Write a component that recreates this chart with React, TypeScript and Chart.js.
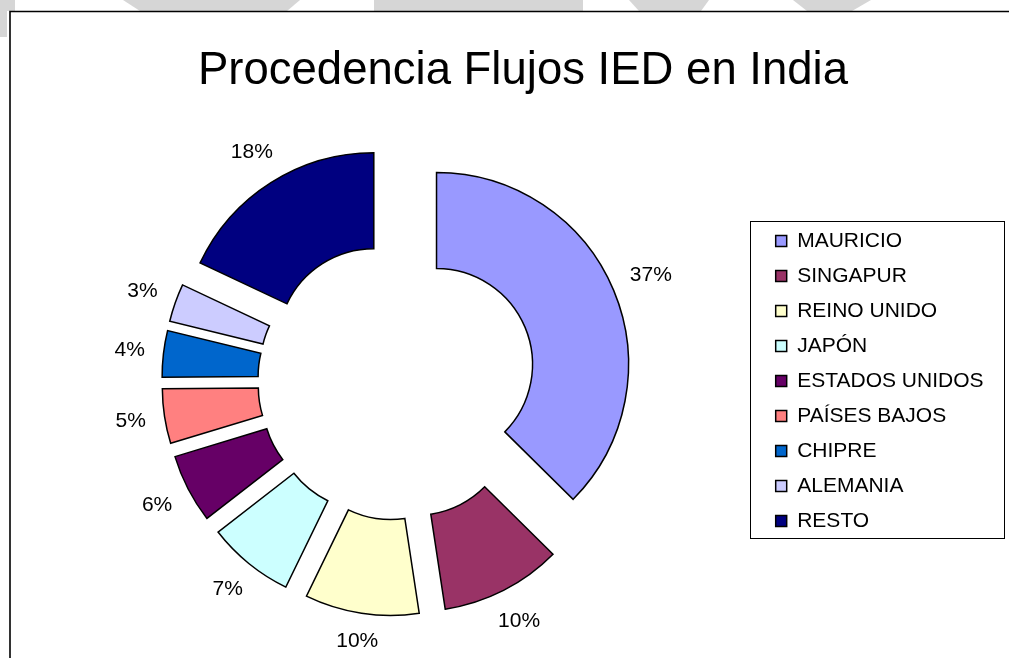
import React, { useEffect, useRef } from 'react';
import { Chart, registerables } from 'chart.js';

Chart.register(...registerables);

const TITLE = 'Procedencia Flujos IED en India';
const COUNTRIES = [
  'MAURICIO',
  'SINGAPUR',
  'REINO UNIDO',
  'JAPÓN',
  'ESTADOS UNIDOS',
  'PAÍSES BAJOS',
  'CHIPRE',
  'ALEMANIA',
  'RESTO',
];
const SHARES = [37.4, 10.2, 9.6, 7.3, 5.8, 4.6, 3.9, 3.2, 18.0];
const COLORS = [
  '#9999FF',
  '#993366',
  '#FFFFCC',
  '#CCFFFF',
  '#660066',
  '#FF8080',
  '#0066CC',
  '#CCCCFF',
  '#000080',
];

const FONT = '"Liberation Sans", Arial, Helvetica, sans-serif';
const EXPLODE = 43;
const LABEL_GAP = 18;

const backdrop = {
  id: 'backdrop',
  beforeDraw(chart: any) {
    const ctx = chart.ctx as CanvasRenderingContext2D;
    const W = chart.width;
    const H = chart.height;
    ctx.save();
    ctx.fillStyle = '#ffffff';
    ctx.fillRect(0, 0, W, H);
    ctx.fillStyle = '#d6d6d6';
    const polys: number[][][] = [
      [[0, 0], [15, 0], [15, 11], [7, 11], [7, 37], [0, 37]],
      [[123, 0], [300, 0], [287, 11], [140, 11]],
      [[374, 0], [583, 0], [583, 11], [374, 11]],
      [[629, 0], [709, 0], [701, 11], [639, 11]],
      [[793, 0], [871, 0], [852, 11], [807, 11]],
    ];
    polys.forEach((p) => {
      ctx.beginPath();
      p.forEach(([x, y], i) => (i ? ctx.lineTo(x, y) : ctx.moveTo(x, y)));
      ctx.closePath();
      ctx.fill();
    });
    ctx.strokeStyle = '#000000';
    ctx.lineWidth = 1.6;
    ctx.beginPath();
    ctx.moveTo(10, H);
    ctx.lineTo(10, 11.5);
    ctx.lineTo(W, 11.5);
    ctx.stroke();
    ctx.restore();
  },
};

const explode = {
  id: 'explode',
  afterDatasetUpdate(chart: any, args: any) {
    args.meta.data.forEach((el: any) => {
      const mid = (el.startAngle + el.endAngle) / 2;
      el.x += Math.cos(mid) * EXPLODE;
      el.y += Math.sin(mid) * EXPLODE;
    });
  },
};

const sliceLabels = {
  id: 'sliceLabels',
  afterDatasetsDraw(chart: any) {
    const meta = chart.getDatasetMeta(0);
    const data = chart.data.datasets[0].data as number[];
    const total = data.reduce((a, b) => a + b, 0);
    const ctx = chart.ctx as CanvasRenderingContext2D;
    ctx.save();
    ctx.font = `21px ${FONT}`;
    ctx.fillStyle = '#000000';
    ctx.textAlign = 'center';
    ctx.textBaseline = 'middle';
    meta.data.forEach((el: any, i: number) => {
      const text = Math.round((data[i] / total) * 100) + '%';
      const mid = (el.startAngle + el.endAngle) / 2;
      const c = Math.cos(mid);
      const s = Math.sin(mid);
      const w = ctx.measureText(text).width;
      const h = 15;
      const dist = el.outerRadius + LABEL_GAP + (Math.abs(c) * w) / 2 + (Math.abs(s) * h) / 2;
      ctx.fillText(text, el.x + c * dist, el.y + s * dist);
    });
    ctx.restore();
  },
};

const legendFrame = {
  id: 'legendFrame',
  afterDraw(chart: any) {
    const lg = chart.legend;
    const hb = lg && lg.legendHitBoxes;
    if (!hb || !hb.length) return;
    const first = hb[0];
    const last = hb[hb.length - 1];
    const left = Math.round(first.left - 26) + 0.5;
    const top = Math.round(first.top - 10) + 0.5;
    const right = Math.round(lg.right + 10) + 0.5;
    const bottom = Math.round(last.top + last.height + 6) + 0.5;
    const ctx = chart.ctx as CanvasRenderingContext2D;
    ctx.save();
    ctx.strokeStyle = '#000000';
    ctx.lineWidth = 1;
    ctx.strokeRect(left, top, right - left, bottom - top);
    ctx.restore();
  },
};

export default function App() {
  const ref = useRef<HTMLCanvasElement>(null);

  useEffect(() => {
    const canvas = ref.current;
    if (!canvas) return;
    const chart = new Chart(canvas, {
      type: 'doughnut',
      data: {
        labels: COUNTRIES,
        datasets: [
          {
            data: SHARES,
            backgroundColor: COLORS,
            borderColor: '#000000',
            borderWidth: 1.5,
            borderJoinStyle: 'miter',
          } as any,
        ],
      },
      options: {
        responsive: false,
        animation: false,
        devicePixelRatio: 1,
        events: [],
        radius: 192,
        cutout: '50%',
        layout: { padding: { left: 32, right: 15.5, top: 104, bottom: 0 } },
        plugins: {
          legend: {
            position: 'right',
            align: 'center',
            labels: {
              font: { family: FONT, size: 21 },
              color: '#000000',
              boxWidth: 11,
              boxHeight: 11,
              padding: 14,
            },
          },
          tooltip: { enabled: false },
          title: { display: false },
        },
      } as any,
      plugins: [backdrop, explode, sliceLabels, legendFrame],
    });
    return () => chart.destroy();
  }, []);

  return (
    <div
      style={{
        position: 'fixed',
        left: 0,
        top: 0,
        width: 1009,
        height: 658,
        overflow: 'hidden',
        background: '#ffffff',
      }}
    >
      <canvas
        ref={ref}
        width={1009}
        height={658}
        style={{ position: 'absolute', left: 0, top: 0, width: 1009, height: 658 }}
      />
      <div
        style={{
          position: 'absolute',
          left: 10,
          top: 46,
          width: 1026,
          textAlign: 'center',
          fontFamily: FONT,
          fontSize: 45.5,
          lineHeight: '45.5px',
          color: '#000000',
          whiteSpace: 'nowrap',
        }}
      >
        {TITLE}
      </div>
    </div>
  );
}
